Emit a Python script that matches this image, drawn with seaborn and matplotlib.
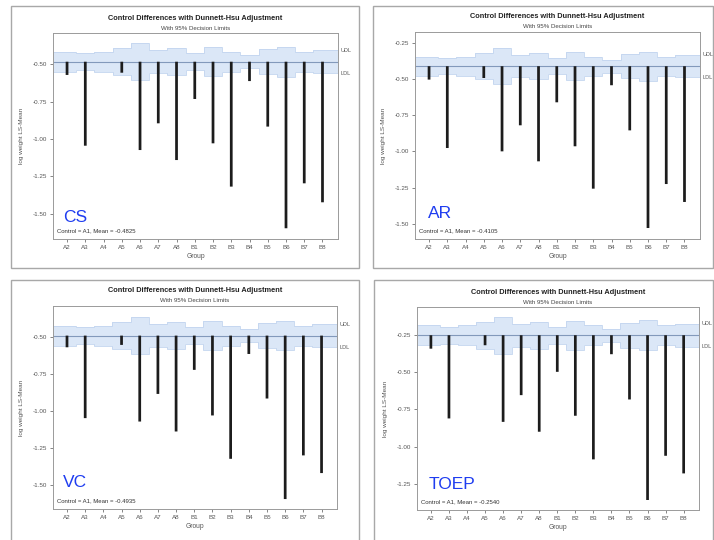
import numpy as np
import pandas as pd
import matplotlib
matplotlib.use("Agg")
import matplotlib.pyplot as plt
from matplotlib.patches import Rectangle
import seaborn as sns

# ---- data -------------------------------------------------------------
groups = ["A2", "A3", "A4", "A5", "A6", "A7", "A8",
          "B1", "B2", "B3", "B4", "B5", "B6", "B7", "B8"]

# LS-means per group for each covariance structure (A4 sits on the control)
cs_means = [-0.571, -1.045, -0.4825, -0.556, -1.074, -0.895, -1.141,
            -0.732, -1.029, -1.319, -0.612, -0.917, -1.598, -1.297, -1.424]
ar_means = [-0.503, -0.976, -0.4105, -0.492, -0.999, -0.819, -1.068,
            -0.660, -0.964, -1.257, -0.542, -0.854, -1.529, -1.225, -1.349]
vc_means = [-0.572, -1.049, -0.4935, -0.556, -1.072, -0.886, -1.139,
            -0.724, -1.031, -1.323, -0.617, -0.917, -1.594, -1.300, -1.419]
toep_means = [-0.344, -0.811, -0.2540, -0.321, -0.834, -0.655, -0.900,
              -0.499, -0.793, -1.085, -0.381, -0.684, -1.357, -1.061, -1.179]

# control (A1) LS-means
control_means = {"CS": -0.4825, "AR": -0.4105, "VC": -0.4935, "TOEP": -0.2540}

# half-width of the Dunnett-Hsu 95% decision limits around the control
decision_halfwidth = [0.067, 0.056, 0.067, 0.089, 0.123, 0.078, 0.089,
                      0.056, 0.096, 0.067, 0.045, 0.083, 0.100, 0.067, 0.078]

cs_ticks = [-0.50, -0.75, -1.00, -1.25, -1.50]
ar_ticks = [-0.25, -0.50, -0.75, -1.00, -1.25, -1.50]
vc_ticks = [-0.50, -0.75, -1.00, -1.25, -1.50]
toep_ticks = [-0.25, -0.50, -0.75, -1.00, -1.25]

# ---- layout (pixel boxes: left, top, right, bottom) ----------------------
W, H = 714, 540
panels = [
    dict(name="CS", means=cs_means, ticks=cs_ticks, ylim=(-1.670, -0.290),
         ax=(53, 33, 338, 239), frame=(11, 6, 359, 268), label=(63, 222)),
    dict(name="AR", means=ar_means, ticks=ar_ticks, ylim=(-1.605, -0.174),
         ax=(415, 32, 700, 239), frame=(373, 6, 713, 268), label=(428, 218)),
    dict(name="VC", means=vc_means, ticks=vc_ticks, ylim=(-1.661, -0.294),
         ax=(53, 306, 337, 509), frame=(11, 280, 359, 541), label=(63, 487)),
    dict(name="TOEP", means=toep_means, ticks=toep_ticks, ylim=(-1.424, -0.065),
         ax=(417, 307, 699, 510), frame=(374, 280, 713, 541), label=(429, 489)),
]

sns.set_theme(style="white")
plt.rcParams["font.family"] = ["Liberation Sans", "DejaVu Sans"]

fig = plt.figure(figsize=(W / 100, H / 100), dpi=100)
fig.patch.set_facecolor("white")

def fx(px):
    return px / W

def fy(py):
    return 1 - py / H

band_color = "#dbe7f7"
band_edge = "#c2d5ef"
xlim = (-0.77, 14.85)

for p in panels:
    l, t, r, b = p["frame"]
    fig.patches.append(Rectangle((fx(l), fy(b)), fx(r) - fx(l), fy(t) - fy(b),
                                 transform=fig.transFigure, fill=False,
                                 edgecolor="#a8a8a8", linewidth=1.0))

    l, t, r, b = p["ax"]
    ax = fig.add_axes([fx(l), fy(b), fx(r) - fx(l), fy(t) - fy(b)])
    ctrl = control_means[p["name"]]
    means = np.array(p["means"])
    hw = np.array(decision_halfwidth)

    # decision-limit band as steps around the control mean
    pos = np.arange(len(groups))
    edges = np.concatenate([[xlim[0]], (pos[:-1] + pos[1:]) / 2, [xlim[1]]])
    ax.stairs(ctrl + hw, edges, baseline=ctrl - hw, fill=True,
              color=band_color, zorder=1)
    ax.stairs(ctrl + hw, edges, baseline=None, color=band_edge,
              linewidth=0.6, zorder=1.5)
    ax.stairs(ctrl - hw, edges, baseline=None, color=band_edge,
              linewidth=0.6, zorder=1.5)
    ax.axhline(ctrl, color="#8299bb", linewidth=0.8, zorder=2)

    # needles from the control mean down to each group's LS-mean
    df = pd.DataFrame({"Group": groups, "diff": means - ctrl})
    sns.barplot(data=df, x="Group", y="diff", order=groups, ax=ax,
                width=0.15, color="#1c1c1c", errorbar=None,
                bottom=ctrl, linewidth=0, snap=False, zorder=3)

    ax.set_xlim(*xlim)
    ax.set_ylim(*p["ylim"])
    ax.set_yticks(p["ticks"])
    ax.set_yticklabels([f"{v:.2f}" for v in p["ticks"]])
    ax.set_xticks(pos)
    ax.set_xticklabels(groups)
    ax.tick_params(axis="both", labelsize=4.5, length=2.5, width=0.5,
                   colors="#555555", pad=2, direction="out",
                   bottom=True, left=True)
    ax.set_xlabel("Group", fontsize=4.8, color="#555555", labelpad=2)
    ax.set_ylabel("")
    for s in ax.spines.values():
        s.set_color("#9a9a9a")
        s.set_linewidth(0.7)
    ax.grid(False)

    # limit labels to the right of the band
    ax.text(1.008, ctrl + hw[-1], "UDL", transform=ax.get_yaxis_transform(),
            fontsize=4.0, color="#555555", va="center", ha="left", clip_on=False)
    ax.text(1.008, ctrl - hw[-1], "LDL", transform=ax.get_yaxis_transform(),
            fontsize=4.0, color="#555555", va="center", ha="left", clip_on=False)

    ax.text(0.015, 0.028, f"Control = A1, Mean = {ctrl:.4f}", transform=ax.transAxes,
            fontsize=4.3, color="#333333", ha="left", va="bottom")

    cx = (l + r) / 2
    fig.text(fx(cx), fy(t - 15), "Control Differences with Dunnett-Hsu Adjustment",
             fontsize=5.3, fontweight="bold", ha="center", va="center", color="#222222")
    fig.text(fx(cx), fy(t - 5), "With 95% Decision Limits",
             fontsize=4.4, ha="center", va="center", color="#444444")
    fig.text(fx(l - 31), fy((t + b) / 2), "log weight LS-Mean", rotation=90,
             fontsize=4.6, ha="center", va="center", color="#555555")

    lx, ly = p["label"]
    fig.text(fx(lx), fy(ly), p["name"], fontsize=12.5, color="#1f3df0",
             ha="left", va="baseline")

fig.savefig("out.png", dpi=100, facecolor="white")
